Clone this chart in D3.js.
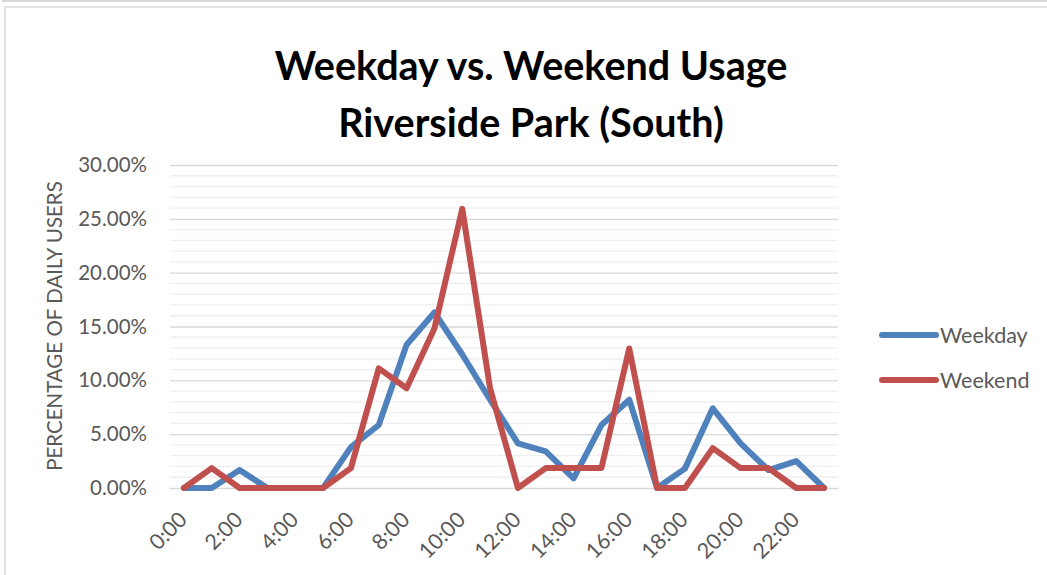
<!DOCTYPE html>
<html>
<head>
<meta charset="utf-8">
<script src="https://cdn.jsdelivr.net/npm/d3@7"></script>
<style>
  body { margin: 0; background: #fff; }
  svg { display: block; }
</style>
</head>
<body>
<div id="root"></div>
<script>
// hours of the day, one point each
let hours = ['0:00', '1:00', '2:00', '3:00', '4:00', '5:00', '6:00', '7:00', '8:00', '9:00', '10:00', '11:00',
    '12:00', '13:00', '14:00', '15:00', '16:00', '17:00', '18:00', '19:00', '20:00', '21:00', '22:00', '23:00'];

// percentage of daily users
let weekday = [0, 0, 1.67, 0, 0, 0, 3.8, 5.85, 13.3, 16.3, 12.4, 8.2, 4.15, 3.4, 0.9, 5.85, 8.2, 0, 1.8, 7.4, 4.15, 1.67, 2.5, 0];
let weekend = [0, 1.85, 0, 0, 0, 0, 1.85, 11.11, 9.26, 14.81, 25.93, 9.26, 0, 1.85, 1.85, 1.85, 12.96, 0, 0, 3.7, 1.85, 1.85, 0, 0];

let tickLabels = ['0:00', '2:00', '4:00', '6:00', '8:00', '10:00', '12:00', '14:00', '16:00', '18:00', '20:00', '22:00'];
let yTicks = [0, 5, 10, 15, 20, 25, 30];

let seriesList = [
    { name: 'Weekday', values: weekday, color: '#4F81BD' },
    { name: 'Weekend', values: weekend, color: '#C0504D' }
];

let width = 1047, height = 575,
    fontFamily = 'Lato, "Open Sans", sans-serif';

let svg = d3.select('#root')
    .append('svg')
    .attr('width', width)
    .attr('height', height);

// frame lines around the chart area
svg.append('rect').attr('x', 2).attr('y', 0).attr('width', width).attr('height', 2).attr('fill', '#d9d9d9');
svg.append('rect').attr('x', 5).attr('y', 7).attr('width', width).attr('height', height)
    .attr('fill', '#fff').attr('stroke', '#d9d9d9').attr('stroke-width', 1.5);

let x = d3.scalePoint()
    .domain(hours)
    .range([170, 838])
    .padding(0.5);

let y = d3.scaleLinear()
    .domain([0, 30])
    .range([488, 165]);

// minor gridlines every 1%, major every 5%
let minor = d3.range(0, 31).filter((v) => v % 5 !== 0);
svg.append('g')
    .selectAll('line')
    .data(minor)
    .enter()
    .append('line')
    .attr('x1', 170).attr('x2', 838)
    .attr('y1', (d) => y(d)).attr('y2', (d) => y(d))
    .style('stroke', '#eeeeee')
    .style('stroke-width', 1.3);

let yAxis = svg.append('g')
    .attr('transform', 'translate(170,0)')
    .call(d3.axisLeft(y).tickValues(yTicks).tickSize(-668).tickPadding(23)
        .tickFormat((d) => d.toFixed(2) + '%'));
yAxis.select('.domain').remove();
yAxis.selectAll('.tick line').style('stroke', '#d9d9d9').style('stroke-width', 1.3);
yAxis.selectAll('.tick text')
    .style('font-family', fontFamily)
    .style('font-size', '20.5px')
    .style('fill', '#595959');

// x labels, rotated
let xAxis = svg.append('g')
    .attr('transform', 'translate(0,488)')
    .call(d3.axisBottom(x).tickValues(tickLabels).tickSize(0).tickPadding(0));
xAxis.select('.domain').remove();
xAxis.selectAll('.tick text')
    .style('font-family', fontFamily)
    .style('font-size', '21.5px')
    .style('fill', '#595959')
    .attr('text-anchor', 'end')
    .attr('y', 0)
    .attr('dy', 0)
    .attr('transform', 'translate(4,33) rotate(-45)');

// axis title
svg.append('text')
    .attr('transform', 'translate(62,326) rotate(-90)')
    .attr('text-anchor', 'middle')
    .style('font-family', fontFamily)
    .style('font-size', '20.5px')
    .style('fill', '#595959')
    .text('PERCENTAGE OF DAILY USERS');

// chart title
svg.append('text')
    .attr('x', 531).attr('y', 80)
    .attr('text-anchor', 'middle')
    .style('font-family', fontFamily)
    .style('font-weight', 'bold')
    .style('font-size', '39.5px')
    .style('fill', '#000')
    .text('Weekday vs. Weekend Usage');
svg.append('text')
    .attr('x', 531).attr('y', 137)
    .attr('text-anchor', 'middle')
    .style('font-family', fontFamily)
    .style('font-weight', 'bold')
    .style('font-size', '39.5px')
    .style('fill', '#000')
    .text('Riverside Park (South)');

let line = d3.line()
    .x((d, i) => x(hours[i]))
    .y((d) => y(d));

svg.append('g')
    .selectAll('path')
    .data(seriesList)
    .enter()
    .append('path')
    .attr('d', (d) => line(d.values))
    .style('fill', 'none')
    .style('stroke', (d) => d.color)
    .style('stroke-width', 6)
    .style('stroke-linejoin', 'round')
    .style('stroke-linecap', 'round');

// legend
let legend = svg.append('g')
    .selectAll('g')
    .data(seriesList)
    .enter()
    .append('g')
    .attr('transform', (d, i) => 'translate(880,' + (335 + i * 45) + ')');

legend.append('line')
    .attr('x1', 2).attr('x2', 56)
    .style('stroke', (d) => d.color)
    .style('stroke-width', 6)
    .style('stroke-linecap', 'round');

legend.append('text')
    .attr('x', 60)
    .attr('dy', '0.35em')
    .style('font-family', fontFamily)
    .style('font-size', '21.5px')
    .style('fill', '#595959')
    .text((d) => d.name);
</script>
</body>
</html>
